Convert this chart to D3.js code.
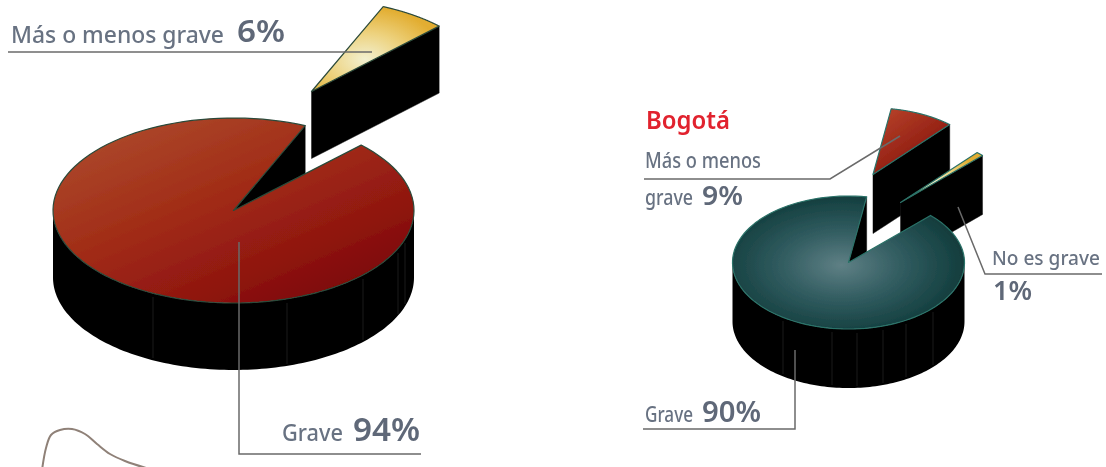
<!DOCTYPE html>
<html><head><meta charset="utf-8">
<script src="https://cdn.jsdelivr.net/npm/d3@7"></script>
<style>html,body{margin:0;padding:0;background:#fff;overflow:hidden}svg{display:block}
text{font-family:"Noto Sans",sans-serif}</style></head><body>
<svg id="c" width="1106" height="467"></svg>
<script>
// ---- data ----
const nationalCategories = ["Grave", "Más o menos grave"];
const nationalValues = [94, 6];
const bogotaTitle = "Bogotá";
const bogotaCategories = ["Grave", "Más o menos grave", "No es grave"];
const bogotaValues = [90, 9, 1];

// ---- layout ----
const rad = d => d * Math.PI / 180;
const svg = d3.select("#c");
const defs = svg.append("defs");
function linGrad(id, x1, y1, x2, y2, stops) {
  const g = defs.append("linearGradient").attr("id", id).attr("x1", x1).attr("y1", y1).attr("x2", x2).attr("y2", y2);
  stops.forEach(s => g.append("stop").attr("offset", s[0]).attr("stop-color", s[1]));
}
function radGrad(id, cx, cy, r, stops) {
  const g = defs.append("radialGradient").attr("id", id).attr("cx", cx).attr("cy", cy).attr("r", r);
  stops.forEach(s => g.append("stop").attr("offset", s[0]).attr("stop-color", s[1]));
}
linGrad("gRed", 0.12, 0.05, 0.88, 0.95, [[0, "#ad4a2c"], [0.45, "#a02a15"], [0.75, "#8f1510"], [1, "#780302"]]);
radGrad("gTeal", 0.47, 0.52, 0.52, [[0, "#5f8085"], [0.5, "#315c60"], [1, "#133e3e"]]);
radGrad("gYellow", 0.42, 0.62, 0.62, [[0, "#f2f0d0"], [0.5, "#edd27e"], [1, "#e2ad30"]]);
linGrad("gRedSmall", 0.1, 0, 0.9, 1, [[0, "#b8432a"], [1, "#7c0a06"]]);
defs.append("filter").attr("id", "soft").append("feGaussianBlur").attr("stdDeviation", 0.45);
defs.append("filter").attr("id", "softer").append("feGaussianBlur").attr("stdDeviation", 0.35);

const pies = [
  { values: nationalValues, cx: 233.5, cy: 210.5, rx: 180.5, ry: 92.5, depth: 67, edge: "#2c4a3a",
    fills: ["url(#gRed)", "url(#gYellow)"], offsets: [[0, 0], [78, -119]],
    seams: [153, 287, 363, 398, 405] },
  { values: bogotaValues, cx: 848.5, cy: 262.5, rx: 116, ry: 66.5, depth: 59, edge: "#2b7268",
    fills: ["url(#gTeal)", "url(#gRedSmall)", "url(#gYellow)"], offsets: [[0, 0], [24.5, -88], [52, -60]],
    seams: [783, 832, 857, 883, 906, 933] }
];
const pieGen = d3.pie().sort(null).startAngle(rad(45)).endAngle(rad(405));
const line = d3.line();

pies.forEach(p => {
  const sx = d3.scaleLinear().domain([-1, 1]).range([p.cx - p.rx, p.cx + p.rx]);
  const sy = d3.scaleLinear().domain([-1, 1]).range([p.cy - p.ry, p.cy + p.ry]);
  const pt = (a, off, dz = 0) => [sx(Math.sin(a)) + off[0], sy(-Math.cos(a)) + off[1] + dz];
  const ctr = (off, dz = 0) => [sx(0) + off[0], sy(0) + off[1] + dz];
  const samples = (a0, a1) => d3.range(0, 121).map(i => a0 + (a1 - a0) * i / 120);
  const arcs = pieGen(p.values).map((d, i) => ({ ...d, i, off: p.offsets[i] }));
  const g = svg.append("g").attr("filter", "url(#soft)");
  // exploded slices are painted first, the main body sits on top of them
  const order = arcs.slice(1).concat(arcs[0]);
  order.forEach(d => {
    const a0 = d.startAngle, a1 = d.endAngle, off = d.off;
    // radial face at the end of the slice
    g.append("path").attr("fill", "#000").attr("stroke", "#111").attr("stroke-width", 0.5)
      .attr("d", line([ctr(off), pt(a1, off), pt(a1, off, p.depth), ctr(off, p.depth)]) + "Z");
    // curved outer wall, front half only
    const lo = Math.max(a0, rad(90)), hi = Math.min(a1, rad(270));
    if (hi > lo) {
      const top = samples(lo, hi).map(a => pt(a, off));
      const bot = samples(lo, hi).reverse().map(a => pt(a, off, p.depth));
      g.append("path").attr("fill", "#000").attr("d", line(top.concat(bot)) + "Z");
    }
    // top face
    const face = [ctr(off)].concat(samples(a0, a1).map(a => pt(a, off)));
    g.append("path").attr("fill", p.fills[d.i]).attr("stroke", p.edge).attr("stroke-width", 1.2)
      .attr("stroke-linejoin", "round").attr("d", line(face) + "Z");
  });
  // faint facet seams on the black wall
  p.seams.forEach(x => {
    const t = sx.invert(x);
    const y0 = sy(Math.sqrt(1 - t * t));
    g.append("line").attr("x1", x).attr("x2", x).attr("y1", y0 + 4).attr("y2", y0 + p.depth - 2)
      .attr("stroke", "#1e1e1e").attr("stroke-width", 1);
  });
});

// map fragment, bottom left
const mapTrace = [[42, 470], [46, 448], [51, 435], [60, 430], [72, 429], [85, 434], [97, 444], [110, 454], [125, 461], [146, 468]];
svg.append("path").attr("d", d3.line().curve(d3.curveCatmullRom)(mapTrace)).attr("fill", "none")
  .attr("stroke", "#8f8178").attr("stroke-width", 2).attr("filter", "url(#softer)");

// leader lines
const leaders = [
  [[8, 52], [372, 52]],
  [[239, 242], [239, 454], [421, 454]],
  [[644, 179], [830, 179], [900, 136]],
  [[643, 429], [795, 429], [795, 350]],
  [[958, 207], [985, 274], [1102, 274]]
];
leaders.forEach(l => svg.append("path").attr("d", line(l)).attr("fill", "none")
  .attr("stroke", "#6a6a6a").attr("stroke-width", 1.5));

// labels
const labels = [
  { t: nationalCategories[1], x: 11, y: 43, s: 23, w: 213 },
  { t: nationalValues[1] + "%", x: 237, y: 42, s: 31, w: 48, b: 1 },
  { t: nationalCategories[0], x: 282, y: 441, s: 23, w: 61 },
  { t: nationalValues[0] + "%", x: 353, y: 441, s: 33, w: 67, b: 1 },
  { t: bogotaTitle, x: 646, y: 129, s: 26, w: 84, b: 1, c: "#e1222d" },
  { t: "Más o menos", x: 645, y: 168, s: 21, w: 116 },
  { t: "grave", x: 645, y: 205, s: 21, w: 48 },
  { t: bogotaValues[1] + "%", x: 702, y: 205, s: 27, w: 41, b: 1 },
  { t: bogotaCategories[2], x: 992, y: 265, s: 19.5, w: 108 },
  { t: bogotaValues[2] + "%", x: 993, y: 300, s: 27, w: 39, b: 1 },
  { t: bogotaCategories[0], x: 645, y: 422, s: 21, w: 48 },
  { t: bogotaValues[0] + "%", x: 702, y: 422, s: 29, w: 59, b: 1 }
];
svg.append("g").attr("filter", "url(#softer)").selectAll("text").data(labels).join("text")
  .attr("x", d => d.x).attr("y", d => d.y).attr("font-size", d => d.s)
  .attr("font-weight", d => d.b ? 600 : 500).attr("fill", d => d.c || (d.b ? "#5f6878" : "#687282"))
  .attr("textLength", d => d.w).attr("lengthAdjust", "spacingAndGlyphs")
  .text(d => d.t);
</script></body></html>
